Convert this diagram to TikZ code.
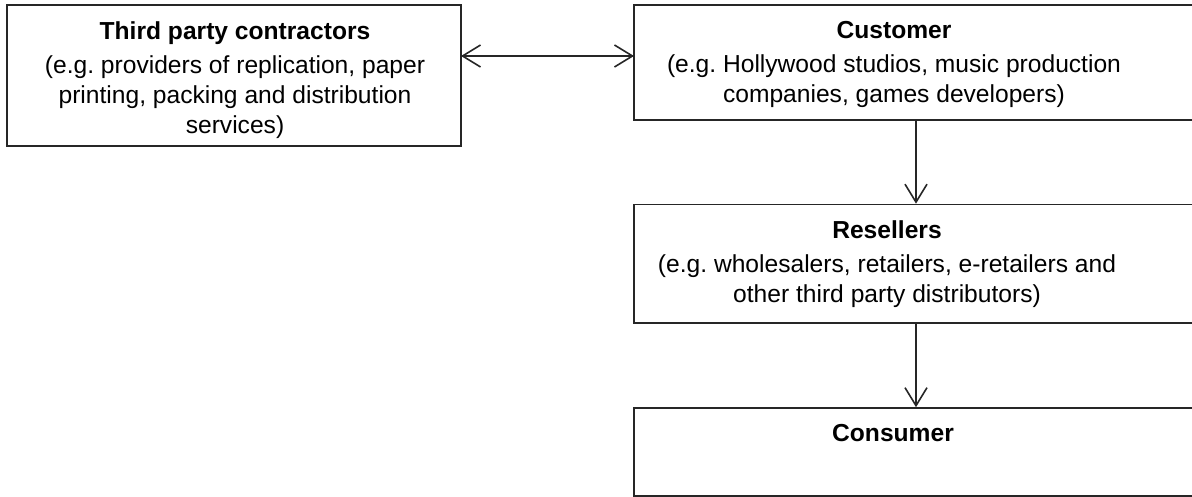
\documentclass[tikz,border=0pt]{standalone}
\usepackage{fontspec}
\setmainfont{Liberation Sans}
\usetikzlibrary{arrows.meta}
\tikzset{
  box/.style={draw=black!85, line width=1.6pt, rectangle, inner sep=0pt},
  txt/.style={align=center, inner sep=0pt, anchor=north, font=\fontsize{24.6}{30}\selectfont},
  conn/.style={draw=black!85, line width=1.6pt}
}
\begin{document}
\begin{tikzpicture}[x=1pt,y=-1pt]
\useasboundingbox (0,0) rectangle (1192,497);
\begin{scope}
\clip (0,0) rectangle (1192,497);
\node[box, minimum width=454pt, minimum height=141pt] (tp) at (234,75.5) {};
\node[box, minimum width=564pt, minimum height=115pt] (cu) at (916,62.5) {};
\node[box, minimum width=564pt, minimum height=118.5pt] (re) at (916,263.75) {};
\node[box, minimum width=564pt, minimum height=88pt] (co) at (916,452) {};
\end{scope}
\node[txt] (tpt) at (235,21) {\textbf{Third party contractors}\\[4pt](e.g.\ providers of replication, paper\\printing, packing and distribution\\services)};
\node[txt] (cut) at (894,21) {\textbf{Customer}\\[4pt](e.g.\ Hollywood studios, music production\\companies, games developers)};
\node[txt] (ret) at (887,220.5) {\textbf{Resellers}\\[4pt](e.g.\ wholesalers, retailers, e-retailers and\\other third party distributors)};
\node[txt] (cot) at (893,424) {\textbf{Consumer}};
\coordinate (a1) at (461,56);
\coordinate (a2) at (634,56);
\draw[conn, {Straight Barb[length=18pt,width=22pt]}-{Straight Barb[length=18pt,width=22pt]}] (a1) -- (a2);
\draw[conn, -{Straight Barb[length=18pt,width=22pt]}] (cu.south -| 916,0) -- (re.north -| 916,0);
\draw[conn, -{Straight Barb[length=18pt,width=22pt]}] (re.south -| 916,0) -- (co.north -| 916,0);
\end{tikzpicture}
\end{document}
